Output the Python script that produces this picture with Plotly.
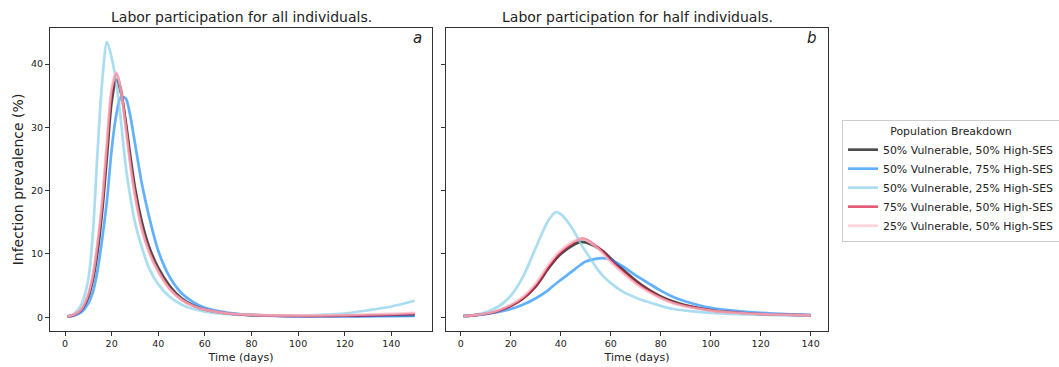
import plotly.graph_objects as go

# ---- data: infection prevalence (%) by day ----
days_a = [1, 4, 7, 10, 12, 14, 16, 18, 20, 22, 24, 26, 28, 30, 33, 36, 40, 45,
          50, 55, 60, 70, 80, 90, 100, 110, 120, 130, 140, 150]
v50_h50_a = [0.1, 0.4, 1.1, 3.2, 6.0, 10.5, 17.0, 25.5, 34.0, 37.5, 35.5, 31.0, 25.5, 20.5,
             15.0, 11.2, 7.8, 4.9, 3.0, 1.9, 1.25, 0.6, 0.35, 0.25, 0.2, 0.2, 0.2, 0.25, 0.3, 0.35]
v50_h75_a = [0.1, 0.3, 0.8, 2.2, 4.0, 7.5, 12.5, 18.5, 26.5, 32.0, 34.8, 34.6, 31.8, 27.5,
             21.0, 16.0, 10.5, 6.3, 3.8, 2.4, 1.5, 0.7, 0.35, 0.2, 0.15, 0.15, 0.15, 0.15, 0.18, 0.2]
v50_h25_a = [0.1, 0.6, 2.0, 6.0, 13.5, 26.5, 37.5, 43.5, 41.0, 37.0, 31.0, 24.0, 19.0, 15.0,
             11.0, 7.8, 5.2, 3.2, 2.0, 1.3, 0.9, 0.5, 0.35, 0.3, 0.3, 0.4, 0.6, 1.1, 1.7, 2.6]
v75_h50_a = [0.1, 0.4, 1.2, 3.5, 6.5, 11.5, 18.0, 27.0, 35.5, 38.5, 36.0, 30.5, 24.5, 19.5,
             14.0, 10.5, 7.3, 4.5, 2.8, 1.8, 1.2, 0.6, 0.35, 0.25, 0.2, 0.2, 0.25, 0.3, 0.4, 0.55]
v25_h50_a = [0.1, 0.45, 1.3, 3.7, 6.8, 12.0, 18.8, 28.0, 36.2, 38.7, 35.7, 30.0, 24.0, 19.2,
             13.8, 10.3, 7.2, 4.4, 2.8, 1.8, 1.2, 0.6, 0.4, 0.3, 0.3, 0.3, 0.35, 0.45, 0.55, 0.7]

days_b = [1, 5, 10, 15, 20, 25, 30, 35, 38, 40, 45, 48, 50, 55, 57, 60, 65, 70, 75,
          80, 85, 90, 100, 110, 120, 130, 140]
v50_h50_b = [0.2, 0.3, 0.55, 1.0, 1.8, 3.0, 4.9, 7.7, 9.2, 10.0, 11.4, 11.9, 11.8, 10.9,
             10.4, 9.3, 7.5, 5.8, 4.4, 3.3, 2.5, 1.9, 1.15, 0.75, 0.5, 0.4, 0.3]
v50_h75_b = [0.2, 0.3, 0.5, 0.85, 1.3, 2.0, 3.0, 4.3, 5.3, 5.9, 7.4, 8.3, 8.8, 9.3,
             9.35, 9.1, 8.0, 6.6, 5.4, 4.2, 3.2, 2.5, 1.5, 1.0, 0.7, 0.5, 0.4]
v50_h25_b = [0.2, 0.35, 0.8, 1.7, 3.4, 6.5, 11.0, 15.3, 16.6, 16.3, 13.8, 11.6, 10.4, 7.4,
             6.5, 5.4, 4.0, 3.1, 2.4, 1.8, 1.3, 1.05, 0.7, 0.5, 0.4, 0.3, 0.25]
v75_h50_b = [0.2, 0.3, 0.55, 1.0, 1.8, 3.0, 5.0, 7.9, 9.4, 10.3, 11.8, 12.4, 12.3, 11.0,
             10.3, 9.0, 7.2, 5.5, 4.2, 3.1, 2.3, 1.8, 1.1, 0.75, 0.5, 0.4, 0.3]
v25_h50_b = [0.2, 0.32, 0.6, 1.1, 2.0, 3.3, 5.4, 8.3, 9.8, 10.6, 12.0, 12.4, 12.2, 10.8,
             10.0, 8.7, 6.9, 5.3, 4.0, 3.0, 2.2, 1.7, 1.05, 0.7, 0.5, 0.4, 0.3]

series_names = ["50% Vulnerable, 50% High-SES", "50% Vulnerable, 75% High-SES",
                "50% Vulnerable, 25% High-SES", "75% Vulnerable, 50% High-SES",
                "25% Vulnerable, 50% High-SES"]
series_colors = ["rgba(0,0,0,0.7)", "rgba(30,144,255,0.7)", "rgba(135,206,235,0.7)",
                 "rgba(220,20,60,0.7)", "rgba(255,192,203,0.7)"]

panel_a = [v50_h50_a, v50_h75_a, v50_h25_a, v75_h50_a, v25_h50_a]
panel_b = [v50_h50_b, v50_h75_b, v50_h25_b, v75_h50_b, v25_h50_b]

W, H = 1059, 367
FONT = "DejaVu Sans"
INK = "#222222"

fig = go.Figure()
for name, color, ya in zip(series_names, series_colors, panel_a):
    fig.add_trace(go.Scatter(x=days_a, y=ya, mode="lines", name=name,
                             line=dict(color=color, width=2.7, shape="spline", smoothing=0.8),
                             xaxis="x", yaxis="y", legendgroup=name, showlegend=True))
for name, color, yb in zip(series_names, series_colors, panel_b):
    fig.add_trace(go.Scatter(x=days_b, y=yb, mode="lines", name=name,
                             line=dict(color=color, width=2.7, shape="spline", smoothing=0.8),
                             xaxis="x2", yaxis="y2", legendgroup=name, showlegend=False))

# plot-area pixel boxes
ax_a = (50, 432)
ax_b = (446, 828)
top, bottom = 28, 331


def fx(px):
    return px / W


def fy(py):
    return 1 - py / H


axis_common = dict(showline=True, linecolor="#333333", linewidth=1, mirror=True,
                   ticks="outside", ticklen=4, tickwidth=1, tickcolor="#333333",
                   showgrid=False, zeroline=False, automargin=False,
                   tickfont=dict(family=FONT, size=9.5, color=INK))

fig.update_layout(
    width=W, height=H,
    margin=dict(l=0, r=0, t=0, b=0, autoexpand=False),
    paper_bgcolor="white", plot_bgcolor="white",
    font=dict(family=FONT, color=INK),
    xaxis=dict(domain=[fx(ax_a[0]), fx(ax_a[1])], range=[-6.45, 157.45],
               tickvals=[0, 20, 40, 60, 80, 100, 120, 140],
               title=dict(text="Time (days)", font=dict(family=FONT, size=11, color=INK), standoff=4),
               anchor="y", **axis_common),
    yaxis=dict(domain=[fy(bottom), fy(top)], range=[-2.17, 45.7],
               tickvals=[0, 10, 20, 30, 40],
               title=dict(text="Infection prevalence (%)", font=dict(family=FONT, size=14, color=INK), standoff=4),
               anchor="x", **axis_common),
    xaxis2=dict(domain=[fx(ax_b[0]), fx(ax_b[1])], range=[-5.95, 146.95],
                tickvals=[0, 20, 40, 60, 80, 100, 120, 140],
                title=dict(text="Time (days)", font=dict(family=FONT, size=11, color=INK), standoff=4),
                anchor="y2", **axis_common),
    yaxis2=dict(domain=[fy(bottom), fy(top)], range=[-2.17, 45.7],
                tickvals=[0, 10, 20, 30, 40], showticklabels=False,
                anchor="x2", matches="y", **axis_common),
    legend=dict(
        x=fx(842), y=fy(181), xanchor="left", yanchor="middle",
        bgcolor="white", bordercolor="#cccccc", borderwidth=1,
        font=dict(family=FONT, size=10.9, color=INK),
        title=dict(text="Population Breakdown", side="top center",
                   font=dict(family=FONT, size=10.9, color=INK)),
        tracegroupgap=0, itemwidth=30,
    ),
    showlegend=True,
)

annotations = [
    dict(text="Labor participation for all individuals.", x=fx(sum(ax_a) / 2), y=fy(17),
         xref="paper", yref="paper", showarrow=False, xanchor="center", yanchor="middle",
         font=dict(family=FONT, size=14, color=INK)),
    dict(text="Labor participation for half individuals.", x=fx(sum(ax_b) / 2), y=fy(17),
         xref="paper", yref="paper", showarrow=False, xanchor="center", yanchor="middle",
         font=dict(family=FONT, size=14, color=INK)),
    dict(text="<i>a</i>", x=fx(424), y=fy(38), xref="paper", yref="paper", showarrow=False,
         xanchor="right", yanchor="middle", font=dict(family=FONT, size=15, color=INK)),
    dict(text="<i>b</i>", x=fx(819), y=fy(38), xref="paper", yref="paper", showarrow=False,
         xanchor="right", yanchor="middle", font=dict(family=FONT, size=15, color=INK)),
]
fig.update_layout(annotations=annotations)

fig.write_html("out.html")
